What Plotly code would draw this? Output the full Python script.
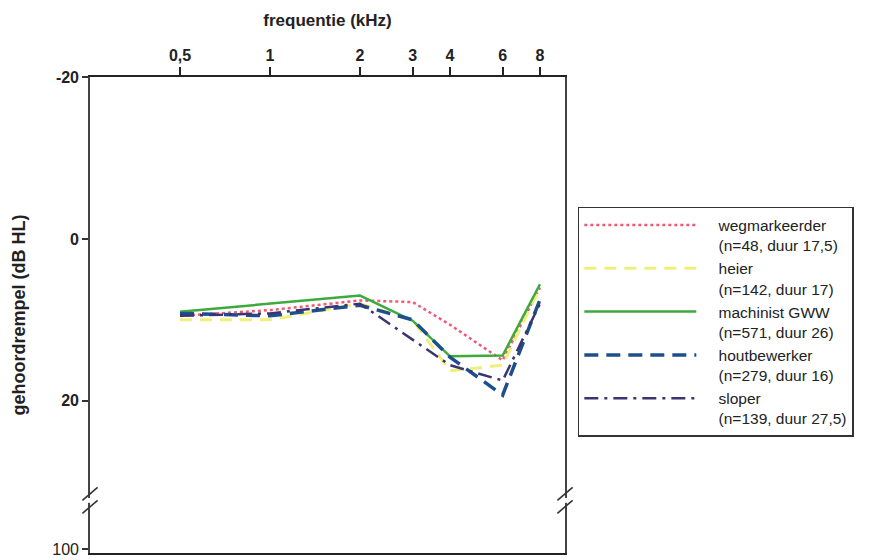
import plotly.graph_objects as go
import math

freqs = [0.5, 1, 2, 3, 4, 6, 8]
freq_labels = ["0,5", "1", "2", "3", "4", "6", "8"]

wegmarkeerder = [9.5, 8.8, 7.6, 7.8, 10.6, 15.0, 6.0]
heier = [10.0, 10.0, 8.0, 10.0, 16.3, 15.6, 6.0]
machinist = [9.0, 8.0, 7.0, 10.1, 14.5, 14.4, 5.6]
houtbewerker = [9.2, 9.5, 8.2, 10.0, 14.6, 19.3, 7.5]
sloper = [9.5, 9.2, 8.0, 12.5, 15.6, 17.5, 8.0]

label_lines = [
    ["wegmarkeerder", "(n=48, duur 17,5)"],
    ["heier", "(n=142, duur 17)"],
    ["machinist GWW", "(n=571, duur 26)"],
    ["houtbewerker", "(n=279, duur 16)"],
    ["sloper", "(n=139, duur 27,5)"],
]
series = [wegmarkeerder, heier, machinist, houtbewerker, sloper]
styles = [
    dict(color="#ef5a72", width=2.5, dash="dot"),
    dict(color="#eef07a", width=3, dash="12px,8px"),
    dict(color="#3caa3c", width=2.5, dash="solid"),
    dict(color="#1c4f8c", width=3.5, dash="14px,8px"),
    dict(color="#3a3570", width=2.5, dash="14px,6px,3px,6px"),
]

y_ticks = [-20, 0, 20, 38.3]
y_ticktext = ["<b>-20</b>", "<b>0</b>", "<b>20</b>", "100"]

pad = "\u00a0" * 4
fig = go.Figure()
for lines, ys, st in zip(label_lines, series, styles):
    nm = "<br>".join(pad + s for s in lines)
    fig.add_trace(go.Scatter(x=freqs, y=ys, mode="lines", name=nm, line=st))

font = "Liberation Sans, Arial, sans-serif"

fig.update_layout(
    width=871, height=560,
    margin=dict(l=90, r=306, t=77, b=7, autoexpand=False),
    paper_bgcolor="white", plot_bgcolor="white",
    font=dict(family=font, color="#222", size=14),
    showlegend=True,
    legend=dict(
        x=1.027, y=0.727, xanchor="left", yanchor="top",
        bordercolor="#333", borderwidth=1.5, bgcolor="white",
        font=dict(family=font, size=15.5, color="#222"),
        itemwidth=112, valign="top", tracegroupgap=0,
    ),
    xaxis=dict(
        type="log", side="top", automargin=False,
        range=[math.log10(0.25), math.log10(9.7)],
        tickvals=freqs, ticktext=["<b>%s</b>" % t for t in freq_labels],
        ticks="outside", ticklen=8, tickwidth=1.5, tickcolor="#222",
        showline=True, linecolor="#222", linewidth=2.2, mirror=True,
        showgrid=False, zeroline=False,
        tickfont=dict(size=16, family=font, color="#222"),
        title=dict(text="<b>frequentie (kHz)</b>", font=dict(size=17, family=font, color="#222"), standoff=16),
    ),
    yaxis=dict(
        range=[38.8, -20], automargin=False, ticklabeloverflow="allow",
        tickvals=y_ticks, ticktext=y_ticktext,
        ticks="outside", ticklen=6, tickwidth=1.5, tickcolor="#333",
        showline=True, linecolor="#444", linewidth=1.6, mirror=True,
        showgrid=False, zeroline=False,
        tickfont=dict(size=16, family=font, color="#222"),
        title=dict(text="<b>gehoordrempel (dB HL)</b>", font=dict(size=18, family=font, color="#222"), standoff=22),
    ),
)

# axis break marks on left and right axis lines
shapes = []
for xp in [0.0, 1.0]:
    shapes.append(dict(type="rect", xref="paper", yref="y", x0=xp - 0.01, x1=xp + 0.01,
                       y0=32.0, y1=32.6, fillcolor="white", line=dict(width=0), layer="above"))
    for yc in [31.5, 33.1]:
        shapes.append(dict(type="line", xref="paper", yref="y",
                           x0=xp - 0.016, x1=xp + 0.016, y0=yc + 0.8, y1=yc - 0.8,
                           line=dict(color="#333", width=1.6), layer="above"))
fig.update_layout(shapes=shapes)

fig.write_html("out.html")
